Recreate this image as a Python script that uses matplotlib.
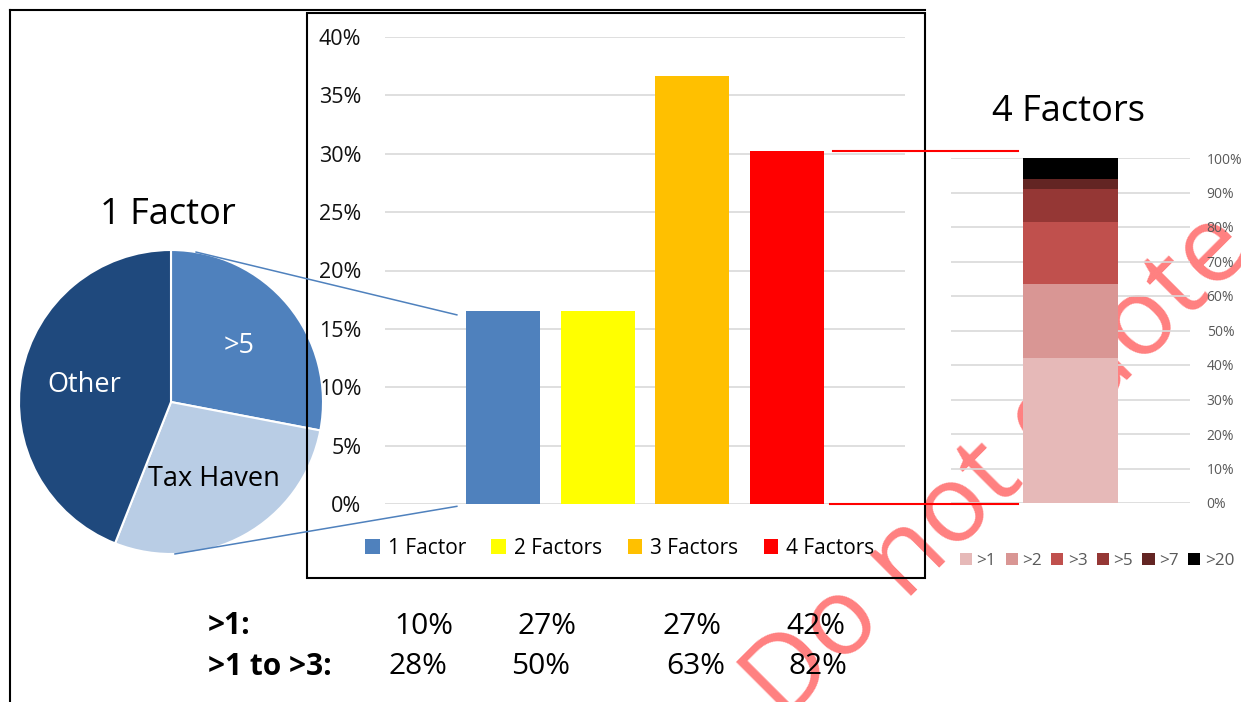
import numpy as np
import matplotlib
matplotlib.use("Agg")
import matplotlib.pyplot as plt
from matplotlib.lines import Line2D
from matplotlib.patches import Rectangle
from matplotlib.ticker import PercentFormatter

# ---------------- data ----------------
pie_labels = [">5", "Tax Haven", "Other"]
pie_values = [28, 28, 44]
pie_colors = ["#4F81BD", "#B9CDE5", "#1F497D"]
pie_text_colors = ["white", "black", "white"]

categories = ["1 Factor", "2 Factors", "3 Factors", "4 Factors"]
shares = [0.165, 0.165, 0.367, 0.302]
bar_colors = ["#4F81BD", "#FFFF00", "#FFC000", "#FF0000"]

stack_labels = [">1", ">2", ">3", ">5", ">7", ">20"]
stack_values = [0.42, 0.215, 0.18, 0.095, 0.03, 0.06]
stack_colors = ["#E6B9B8", "#D99694", "#C0504D", "#953735", "#632523", "#000000"]

row_labels = [">1:", ">1 to >3:"]
row_gt1 = ["10%", "27%", "27%", "42%"]
row_gt1_to_3 = ["28%", "50%", "63%", "82%"]

# ---------------- figure ----------------
W, H = 1241, 702
plt.rcParams["font.family"] = ["Open Sans", "DejaVu Sans"]
fig = plt.figure(figsize=(W / 100, H / 100), dpi=100)


def fx(px):
    return px / W


def fy(py):
    return 1 - py / H


def to_fig(ax, x, y):
    disp = ax.transData.transform((x, y))
    return fig.transFigure.inverted().transform(disp)


# outer frame lines
fig.add_artist(Line2D([fx(10), fx(10)], [fy(10), 0], transform=fig.transFigure,
                      color="black", lw=1.5))
fig.add_artist(Line2D([fx(10), fx(925)], [fy(10), fy(10)], transform=fig.transFigure,
                      color="black", lw=1.5))
# main chart frame
fig.add_artist(Rectangle((fx(307), fy(578)), 618 / W, 565 / H, fill=False,
                         ec="black", lw=1.5, transform=fig.transFigure))

# ---------------- main bar chart ----------------
ax = fig.add_axes([fx(385), fy(504), 520 / W, 467 / H])
ax.patch.set_alpha(0)
x = np.arange(len(categories))
bars = ax.bar(x, shares, width=0.78, color=bar_colors, zorder=2)
ax.set_xlim(-1.25, 4.25)
ax.set_ylim(0, 0.4)
ax.set_yticks(np.arange(0, 0.401, 0.05))
ax.yaxis.set_major_formatter(PercentFormatter(1.0, decimals=0))
ax.grid(axis="y", color="#D9D9D9", lw=1.2, zorder=0)
ax.set_axisbelow(True)
ax.set_xticks([])
for s in ax.spines.values():
    s.set_visible(False)
ax.tick_params(axis="y", length=0, pad=17, labelsize=15.5, labelcolor="#111111")

fig.legend(list(bars), categories, ncol=4, loc="center",
           bbox_to_anchor=(fx(620), fy(548)), frameon=False, fontsize=15,
           handlelength=0.7, handleheight=0.7, handletextpad=0.4,
           columnspacing=1.2)

# ---------------- pie ----------------
axp = fig.add_axes([fx(19), fy(554), 304 / W, 304 / H])
axp.patch.set_visible(False)
wedges, _ = axp.pie(pie_values, colors=pie_colors, startangle=90,
                    counterclock=False, radius=1,
                    wedgeprops=dict(edgecolor="white", linewidth=1.5))
axp.set_xlim(-1, 1)
axp.set_ylim(-1, 1)
for w, lab, tc in zip(wedges, pie_labels, pie_text_colors):
    th = np.deg2rad((w.theta1 + w.theta2) / 2)
    axp.text(0.58 * np.cos(th), 0.58 * np.sin(th), lab, ha="center",
             va="center", fontsize=19.5, color=tc)

fig.text(fx(168), fy(215), "1 Factor", fontsize=26, ha="center", va="center")

# blue connector lines from pie to the 1 Factor bar
b0 = bars[0]
a_top = np.deg2rad(80.5)
a_bot = np.deg2rad(-88.5)
p_top = to_fig(axp, np.cos(a_top), np.sin(a_top))
p_bot = to_fig(axp, np.cos(a_bot), np.sin(a_bot))
q_top = to_fig(ax, b0.get_x() - 0.1, b0.get_height() - 0.003)
q_bot = to_fig(ax, b0.get_x() - 0.1, -0.002)
for p, q in [(p_top, q_top), (p_bot, q_bot)]:
    fig.add_artist(Line2D([p[0], q[0]], [p[1], q[1]], transform=fig.transFigure,
                          color="#4F81BD", lw=1.1))

# ---------------- stacked bar ----------------
ax2 = fig.add_axes([fx(951), fy(503), 239 / W, 345 / H])
ax2.patch.set_alpha(0)
bottom = 0.0
stack_handles = []
for v, c in zip(stack_values, stack_colors):
    bb = ax2.bar(0, v, bottom=bottom, width=1.0, color=c, zorder=2)
    stack_handles.append(bb[0])
    bottom += v
ax2.set_xlim(-1.245, 1.245)
ax2.set_ylim(0, 1)
ax2.set_yticks(np.arange(0, 1.001, 0.1))
ax2.yaxis.set_major_formatter(PercentFormatter(1.0, decimals=0))
ax2.yaxis.tick_right()
ax2.grid(axis="y", color="#D9D9D9", lw=1.2, zorder=0)
ax2.set_axisbelow(True)
ax2.set_xticks([])
for s in ax2.spines.values():
    s.set_visible(False)
ax2.tick_params(axis="y", length=0, pad=12, labelsize=10, labelcolor="#595959")

fig.legend(stack_handles, stack_labels, ncol=6, loc="center",
           bbox_to_anchor=(fx(1097), fy(561)), frameon=False, fontsize=12.3,
           labelcolor="#595959", handlelength=0.72, handleheight=0.72,
           handletextpad=0.25, columnspacing=0.55, borderpad=0.2)

fig.text(fx(1068), fy(112), "4 Factors", fontsize=26, ha="center", va="center")

# red connector lines from 4 Factors bar to stacked bar
b3 = bars[3]
r1a = to_fig(ax, b3.get_x() + b3.get_width() + 0.1, b3.get_height())
r1b = to_fig(ax2, -0.55, 0)
r2a = to_fig(ax, b3.get_x() + b3.get_width() + 0.07, 0)
for (xa, ya), xb in [(r1a, r1b[0]), (r2a, r1b[0])]:
    fig.add_artist(Line2D([xa, xb], [ya, ya], transform=fig.transFigure,
                          color="#FF0000", lw=1.5, zorder=4))

# ---------------- bottom rows ----------------
fig.text(fx(208), fy(626), row_labels[0], fontsize=21.5, fontweight="bold",
         ha="left", va="center", zorder=7)
fig.text(fx(208), fy(667), row_labels[1], fontsize=21.5, fontweight="bold",
         ha="left", va="center", zorder=7)
row1_x = [424, 547, 692, 816]
row2_x = [418, 541, 696, 818]
for xx, t in zip(row1_x, row_gt1):
    fig.text(fx(xx), fy(626), t, fontsize=21.5, ha="center", va="center", zorder=7)
for xx, t in zip(row2_x, row_gt1_to_3):
    fig.text(fx(xx), fy(667), t, fontsize=21.5, ha="center", va="center", zorder=7)

# ---------------- watermark (behind everything) ----------------
fig.text(fx(1000), fy(468), "Do not quote", rotation=45, rotation_mode="anchor",
         fontsize=78, color="#FF8080", ha="center", va="center", zorder=-1)

fig.savefig("out.png", dpi=100)
